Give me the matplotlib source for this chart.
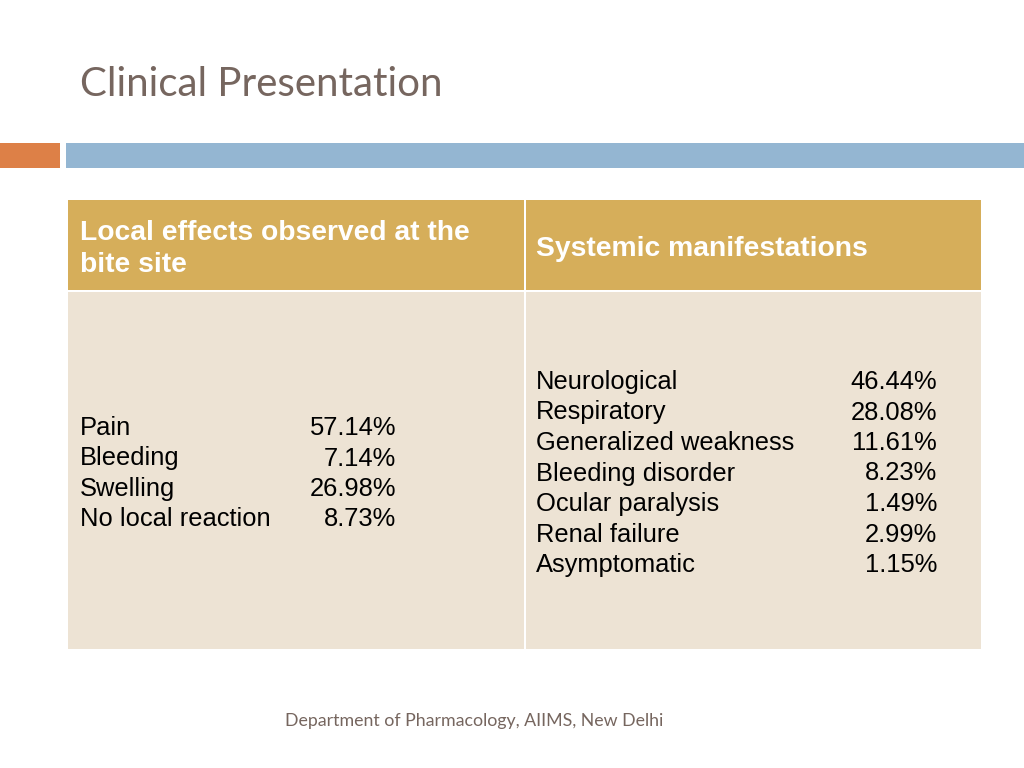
import matplotlib
matplotlib.use("Agg")
import matplotlib.pyplot as plt
from matplotlib.patches import Rectangle

W, H = 1024, 768

title = "Clinical Presentation"
footer = "Department of Pharmacology, AIIMS, New Delhi"
headers = ["Local effects observed at the\nbite site", "Systemic manifestations"]

local_labels = ["Pain", "Bleeding", "Swelling", "No local reaction"]
local_values = [57.14, 7.14, 26.98, 8.73]

systemic_labels = ["Neurological", "Respiratory", "Generalized weakness",
                   "Bleeding disorder", "Ocular paralysis", "Renal failure",
                   "Asymptomatic"]
systemic_values = [46.44, 28.08, 11.61, 8.23, 1.49, 2.99, 1.15]

gold = "#D6AE5A"
cream = "#EDE3D4"
orange = "#DD8047"
blue = "#94B6D2"
brown = "#76665F"

fig = plt.figure(figsize=(W / 100, H / 100), dpi=100)
ax = fig.add_axes([0, 0, 1, 1])
ax.set_xlim(0, W)
ax.set_ylim(H, 0)
ax.axis("off")

# title and accent bars
ax.text(80, 84, title, fontsize=29, color=brown, family="Lato",
        va="center", ha="left")
ax.add_patch(Rectangle((0, 143), 60, 25, color=orange, lw=0))
ax.add_patch(Rectangle((66, 143), W - 66, 25, color=blue, lw=0))

# table cells
x0, xm, x1 = 68, 525, 981
y0, yh, y1 = 200, 291, 649
gap = 2
ax.add_patch(Rectangle((x0, y0), xm - x0 - gap / 2, yh - y0 - gap / 2, color=gold, lw=0))
ax.add_patch(Rectangle((xm + gap / 2, y0), x1 - xm - gap / 2, yh - y0 - gap / 2, color=gold, lw=0))
ax.add_patch(Rectangle((x0, yh + gap / 2), xm - x0 - gap / 2, y1 - yh - gap / 2, color=cream, lw=0))
ax.add_patch(Rectangle((xm + gap / 2, yh + gap / 2), x1 - xm - gap / 2, y1 - yh - gap / 2, color=cream, lw=0))

tfont = "Liberation Sans"
ax.text(80, 249, headers[0], fontsize=20.3, fontweight="bold", color="white",
        family=tfont, va="center", ha="left", linespacing=1.35)
ax.text(536, 249, headers[1], fontsize=20.3, fontweight="bold", color="white",
        family=tfont, va="center", ha="left")

step = 30.5
fs = 18.4
for i, (lab, val) in enumerate(zip(local_labels, local_values)):
    y = 428 + i * step
    ax.text(80, y, lab, fontsize=fs, color="black", family=tfont, va="center")
    ax.text(396, y, f"{val:.2f}%", fontsize=fs, color="black", family=tfont,
            va="center", ha="right")

for i, (lab, val) in enumerate(zip(systemic_labels, systemic_values)):
    y = 382 + i * step
    ax.text(536, y, lab, fontsize=fs, color="black", family=tfont, va="center")
    ax.text(937, y, f"{val:.2f}%", fontsize=fs, color="black", family=tfont,
            va="center", ha="right")

ax.text(474, 721, footer, fontsize=12.8, color=brown, family="Lato",
        va="center", ha="center")

fig.savefig("out.png", dpi=100)
